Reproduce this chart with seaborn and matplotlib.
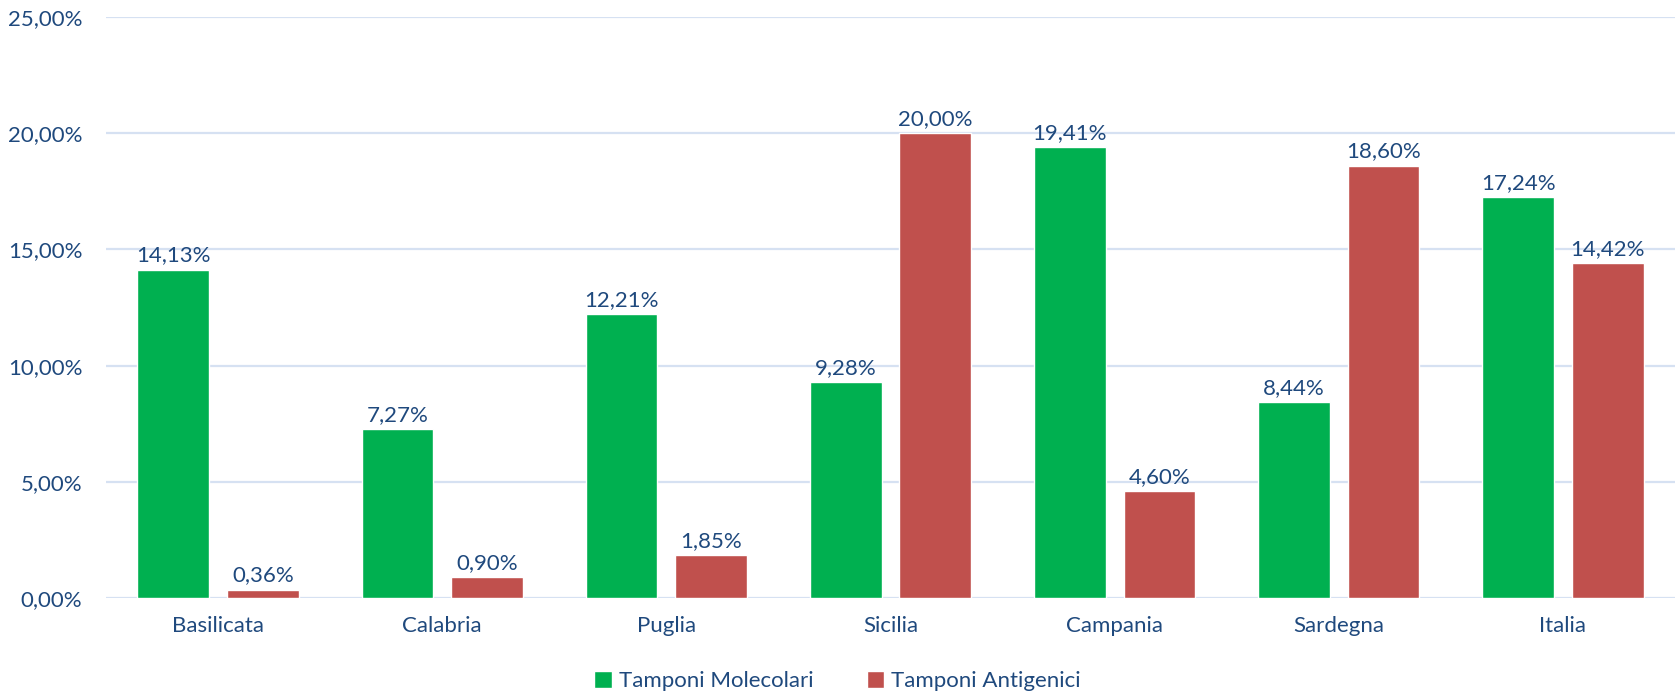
import matplotlib
matplotlib.use("Agg")
import matplotlib.pyplot as plt
import seaborn as sns
import pandas as pd
from matplotlib.patches import Patch

regions = ["Basilicata", "Calabria", "Puglia", "Sicilia", "Campania", "Sardegna", "Italia"]
molecolari = [14.13, 7.27, 12.21, 9.28, 19.41, 8.44, 17.24]
antigenici = [0.36, 0.90, 1.85, 20.00, 4.60, 18.60, 14.42]
series = ["Tamponi Molecolari", "Tamponi Antigenici"]
yticks = [0, 5, 10, 15, 20, 25]

df = pd.DataFrame({
    "Regione": regions * 2,
    "Serie": [series[0]] * len(regions) + [series[1]] * len(regions),
    "Valore": molecolari + antigenici,
})

sns.set_theme(style="white")
plt.rcParams['font.family'] = ['Lato', 'DejaVu Sans']
TXT = "#1F497D"
FS = 16
colors = {series[0]: "#00B050", series[1]: "#C0504D"}

fig = plt.figure(figsize=(16.75, 6.94), dpi=100)
ax = fig.add_axes([0.0633, 0.1383, 0.9367, 0.8372])
sns.barplot(data=df, x="Regione", y="Valore", hue="Serie", palette=colors,
            width=0.8, gap=0.2, ax=ax, legend=False, saturation=1)

ax.set_ylim(0, 25)
ax.set_xlim(-0.5, len(regions) - 0.5)
ax.set_yticks(yticks)
ax.set_yticklabels([f"{v:.2f}".replace(".", ",") + "%" for v in yticks])
ax.yaxis.grid(True, color="#D6E1F2", lw=1.6)
ax.set_axisbelow(True)
for s in ax.spines.values():
    s.set_visible(False)
ax.set_xlabel("")
ax.set_ylabel("")
ax.tick_params(axis="both", length=0, labelsize=FS, labelcolor=TXT)
ax.tick_params(axis="x", pad=13)
ax.tick_params(axis="y", pad=17)

for cont in ax.containers:
    labels = [f"{b.get_height():.2f}".replace(".", ",") + "%" for b in cont]
    ax.bar_label(cont, labels=labels, padding=3, fontsize=FS, color=TXT)

handles = [Patch(facecolor=colors[s], label=s) for s in series]
fig.legend(handles=handles, loc="lower center", bbox_to_anchor=(0.5, -0.025), ncol=2,
           frameon=False, fontsize=FS, labelcolor=TXT, handlelength=0.8,
           handleheight=0.8, handletextpad=0.3, columnspacing=2.4)

fig.savefig("out.png", dpi=100)
